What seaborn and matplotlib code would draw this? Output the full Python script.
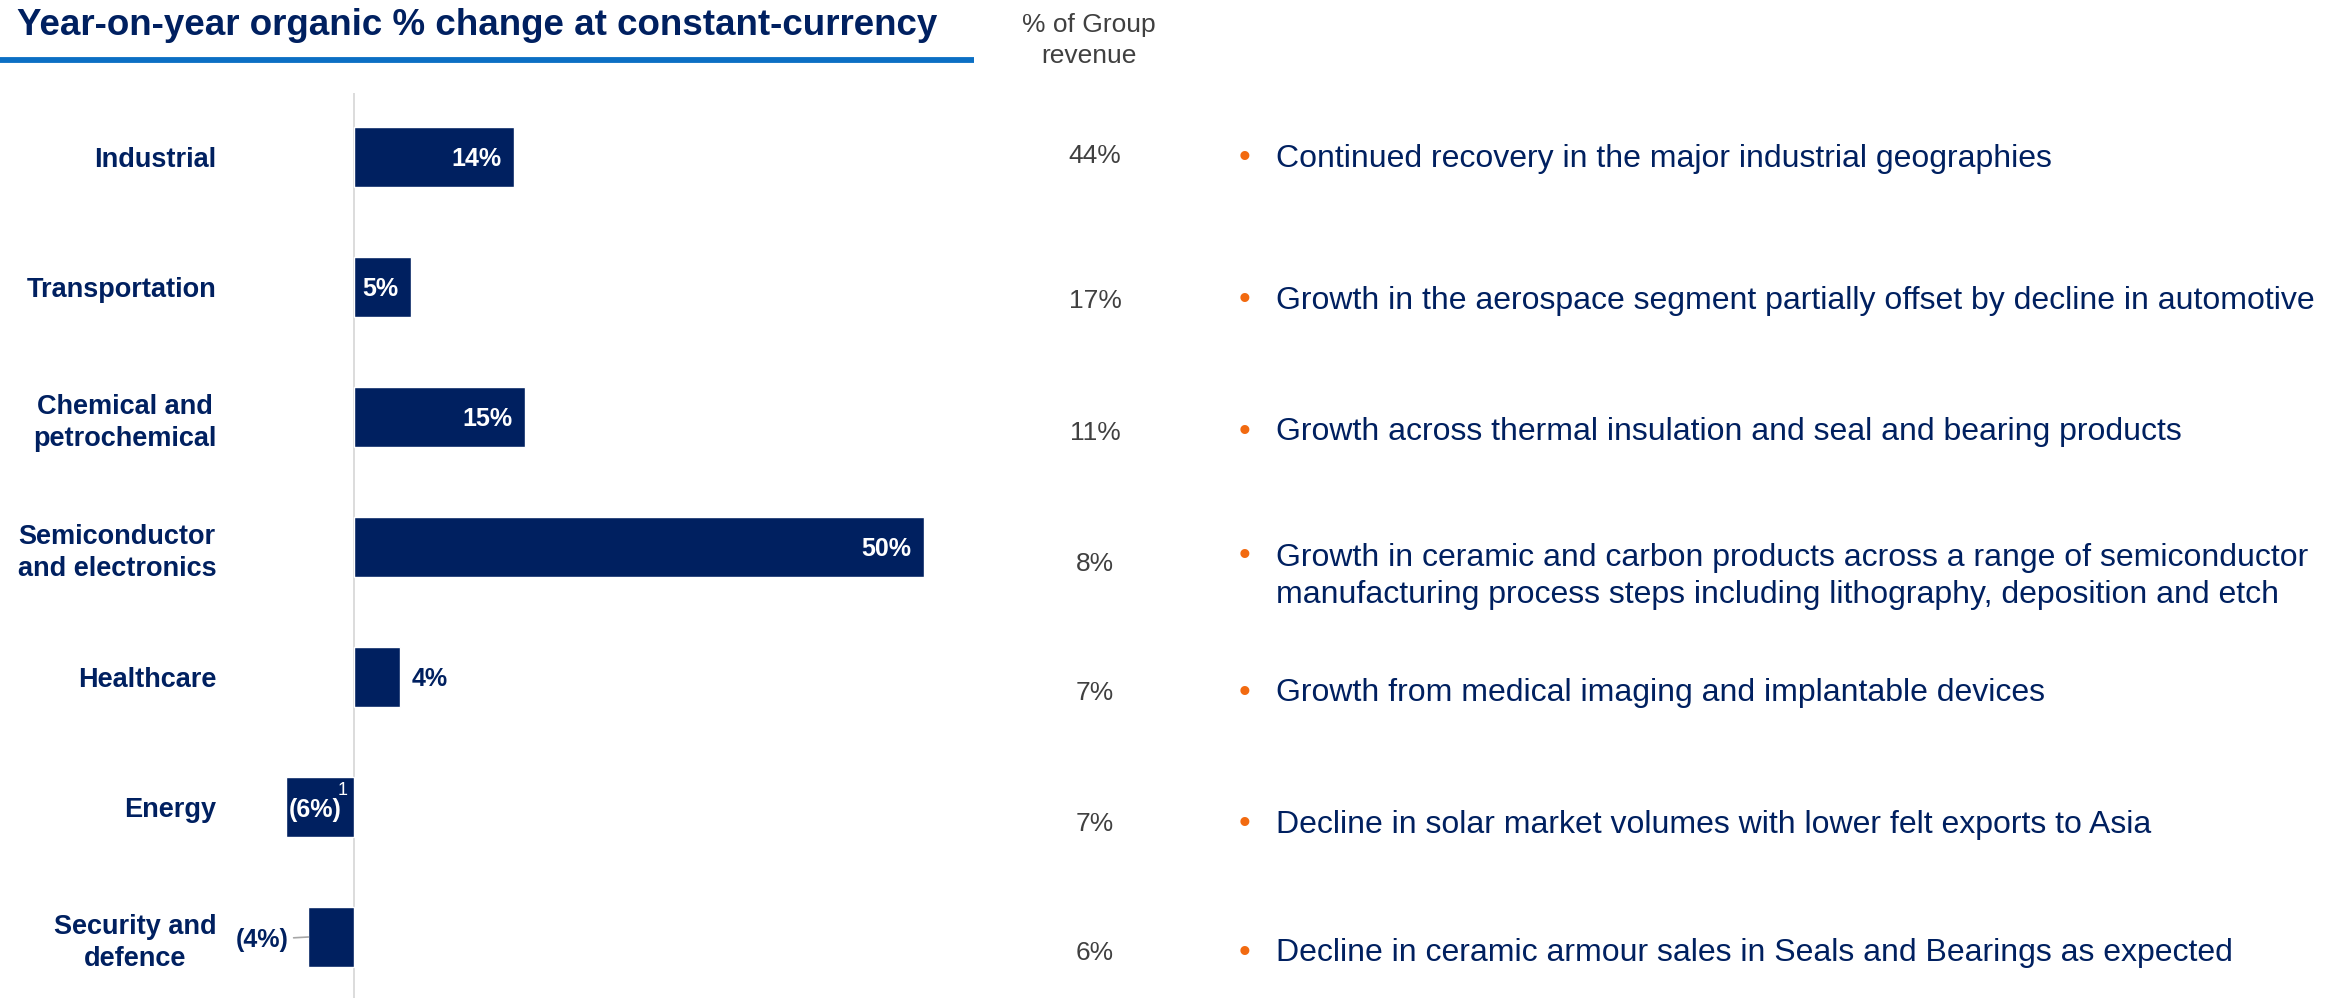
import matplotlib
matplotlib.use("Agg")
import matplotlib.pyplot as plt
import matplotlib.transforms as mtransforms
from matplotlib.lines import Line2D
import seaborn as sns
import pandas as pd

# ---- data -------------------------------------------------------------
segments = [
    "Industrial",
    "Transportation",
    "Chemical and\npetrochemical",
    "Semiconductor\nand electronics",
    "Healthcare",
    "Energy",
    "Security and\ndefence",
]
organic_change = [14, 5, 15, 50, 4, -6, -4]          # % YoY, constant currency
group_share = [44, 17, 11, 8, 7, 7, 6]               # % of Group revenue
footnotes = ["", "", "", "", "", "1", ""]
commentary = [
    "Continued recovery in the major industrial geographies",
    "Growth in the aerospace segment partially offset by decline in automotive",
    "Growth across thermal insulation and seal and bearing products",
    "Growth in ceramic and carbon products across a range of semiconductor\n"
    "manufacturing process steps including lithography, deposition and etch",
    "Growth from medical imaging and implantable devices",
    "Decline in solar market volumes with lower felt exports to Asia",
    "Decline in ceramic armour sales in Seals and Bearings as expected",
]
title = "Year-on-year organic % change at constant-currency"
share_header = "% of Group\nrevenue"

# ---- style ------------------------------------------------------------
NAVY = "#002060"
RULE_BLUE = "#0b6fc4"
GREY_TEXT = "#404040"
ORANGE = "#f26a10"
ZERO_GREY = "#d9d9d9"

sns.set_theme(style="white")
plt.rcParams["font.family"] = ["Liberation Sans", "DejaVu Sans"]

W, H = 2346, 998
fig = plt.figure(figsize=(W / 100, H / 100), dpi=100)
fig.patch.set_facecolor("white")

# bar panel placed in pixel terms
ax_left, ax_right, ax_top, ax_bottom = 265, 955, 93, 998
ax = fig.add_axes([ax_left / W, 1 - ax_bottom / H,
                   (ax_right - ax_left) / W, (ax_bottom - ax_top) / H])

df = pd.DataFrame({"segment": segments, "change": organic_change})
sns.barplot(data=df, x="change", y="segment", orient="h", color=NAVY,
            saturation=1, width=0.455, ax=ax)

zero_px, px_per_pct = 354, 11.4
row0_px, row_step = 157, 130
ax.set_xlim((ax_left - zero_px) / px_per_pct, (ax_right - zero_px) / px_per_pct)
ax.set_ylim((ax_bottom - row0_px) / row_step, (ax_top - row0_px) / row_step)

for s in ax.spines.values():
    s.set_visible(False)
ax.set_xticks([])
ax.set_xlabel("")
ax.set_ylabel("")
ax.axvline(0, color=ZERO_GREY, lw=1.3, zorder=0)

ax.tick_params(axis="y", length=0, pad=35)
for lbl in ax.get_yticklabels():
    lbl.set_fontsize(19.5)
    lbl.set_fontweight("bold")
    lbl.set_color(NAVY)
    lbl.set_multialignment("center")
    lbl.set_linespacing(1.3)

# value labels
for i, v in enumerate(organic_change):
    txt = f"{v}%" if v >= 0 else f"({-v}%)"
    inside = abs(v) >= 5
    if inside and v > 0:
        ax.annotate(txt, (v, i), xytext=(-9, 0), textcoords="offset points",
                    ha="right", va="center_baseline", color="white",
                    fontsize=18, fontweight="bold")
    elif inside:
        ax.annotate(txt, (0, i), xytext=(-9, 0), textcoords="offset points",
                    ha="right", va="center_baseline", color="white",
                    fontsize=18, fontweight="bold")
    elif v > 0:
        ax.annotate(txt, (v, i), xytext=(8.5, 0), textcoords="offset points",
                    ha="left", va="center_baseline", color=NAVY,
                    fontsize=18, fontweight="bold")
    else:
        ax.annotate(txt, (v, i), xytext=(-14, 0), textcoords="offset points",
                    ha="right", va="center_baseline", color=NAVY,
                    fontsize=18, fontweight="bold",
                    arrowprops=dict(arrowstyle="-", color="#a6a6a6", lw=1.2,
                                    shrinkA=1, shrinkB=0))
    if footnotes[i]:
        ax.annotate(footnotes[i], (0, i), xytext=(-8, 12),
                    textcoords="offset points", ha="center", va="center",
                    color="white", fontsize=13)

# right-hand columns share the bar rows
row_trans = mtransforms.blended_transform_factory(fig.transFigure, ax.transData)
share_nudge = [-0.03, 0.085, 0.10, 0.115, 0.10, 0.115, 0.10]
note_nudge = [-0.015, 0.08, 0.09, 0.17, 0.10, 0.11, 0.10]
bullet_nudge = [-0.015, 0.08, 0.09, 0.05, 0.10, 0.11, 0.10]

fig.text(1089 / W, 1 - 13 / H, share_header, ha="center", va="top",
         multialignment="center", color=GREY_TEXT, fontsize=19, linespacing=1.35)

for i, (share, note) in enumerate(zip(group_share, commentary)):
    ax.text(1095 / W, i + share_nudge[i], f"{share}%", transform=row_trans,
            ha="center", va="center_baseline", color=GREY_TEXT, fontsize=19,
            clip_on=False)
    ax.text(1244 / W, i + bullet_nudge[i], "\u2022", transform=row_trans,
            ha="center", va="center_baseline", color=ORANGE, fontsize=24,
            clip_on=False)
    ax.text(1276 / W, i + note_nudge[i], note, transform=row_trans, ha="left",
            va="center_baseline", color=NAVY, fontsize=23, clip_on=False,
            linespacing=1.3)

# title and rule
fig.text(17 / W, 1 - 35 / H, title, ha="left", va="baseline", color=NAVY,
         fontsize=26.5, fontweight="bold")
fig.add_artist(Line2D([0, 974 / W], [1 - 60 / H, 1 - 60 / H],
                      color=RULE_BLUE, lw=4.2, solid_capstyle="butt"))

fig.savefig("out.png", dpi=100, facecolor="white")
